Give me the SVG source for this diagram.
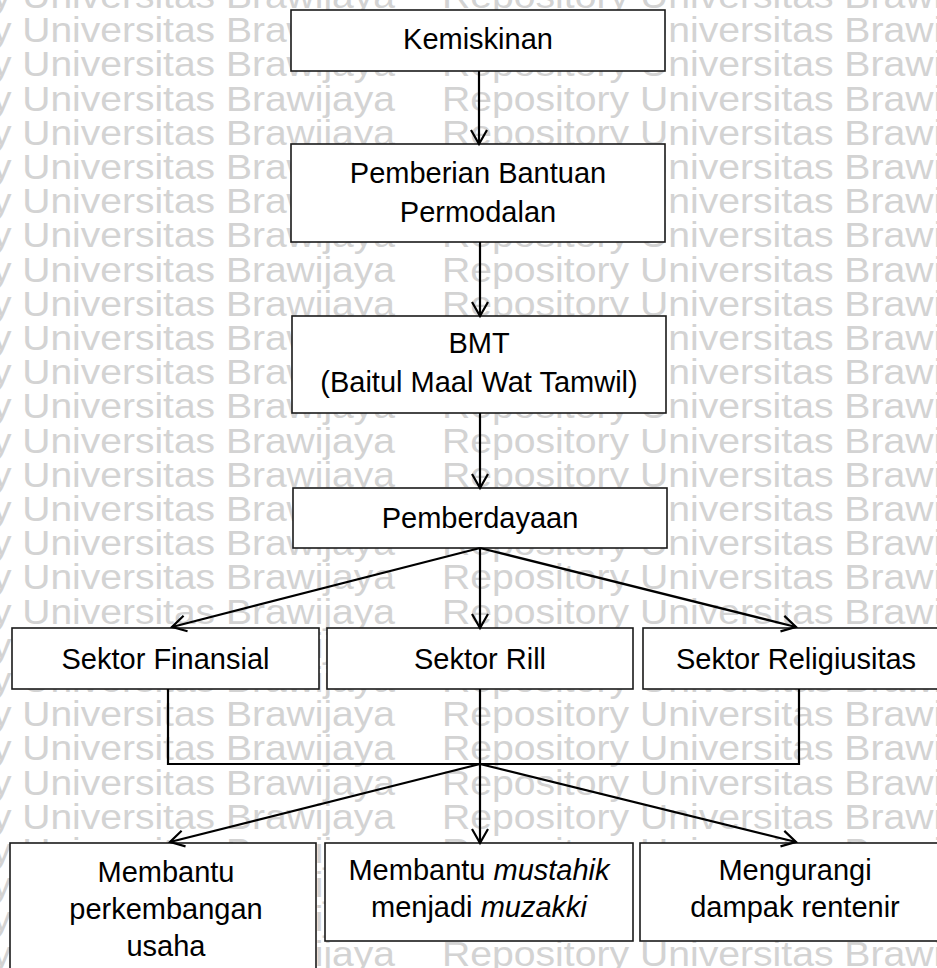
<svg xmlns="http://www.w3.org/2000/svg" width="937" height="968" viewBox="0 0 937 968">
<style>
.wm{font-family:"Liberation Sans",Arial,sans-serif;font-size:35px;fill:#d3d3d3}
.box{fill:#fff;stroke:#1a1a1a;stroke-width:1.6}
.t{font-family:"Liberation Sans",Arial,sans-serif;font-size:29px;fill:#000;text-anchor:middle}
.it{font-style:italic}
.c{fill:none;stroke:#000;stroke-width:2.2}
</style>
<defs>
<marker id="ah" viewBox="-16 -10 18 20" refX="0" refY="0" markerWidth="18" markerHeight="20" markerUnits="userSpaceOnUse" orient="auto" overflow="visible">
<path d="M-14,-8 L0,0 L-14,8" fill="none" stroke="#000" stroke-width="2.2"/>
</marker>
</defs>
<rect width="937" height="968" fill="#fff"/>
<g id="watermark">
<text class="wm" x="-175" y="8" textLength="570" lengthAdjust="spacingAndGlyphs">Repository Universitas Brawijaya</text><text class="wm" x="442" y="8" textLength="572" lengthAdjust="spacingAndGlyphs">Repository Universitas Brawijaya</text>
<text class="wm" x="-175" y="42" textLength="570" lengthAdjust="spacingAndGlyphs">Repository Universitas Brawijaya</text><text class="wm" x="442" y="42" textLength="572" lengthAdjust="spacingAndGlyphs">Repository Universitas Brawijaya</text>
<text class="wm" x="-175" y="76" textLength="570" lengthAdjust="spacingAndGlyphs">Repository Universitas Brawijaya</text><text class="wm" x="442" y="76" textLength="572" lengthAdjust="spacingAndGlyphs">Repository Universitas Brawijaya</text>
<text class="wm" x="-175" y="111" textLength="570" lengthAdjust="spacingAndGlyphs">Repository Universitas Brawijaya</text><text class="wm" x="442" y="111" textLength="572" lengthAdjust="spacingAndGlyphs">Repository Universitas Brawijaya</text>
<text class="wm" x="-175" y="145" textLength="570" lengthAdjust="spacingAndGlyphs">Repository Universitas Brawijaya</text><text class="wm" x="442" y="145" textLength="572" lengthAdjust="spacingAndGlyphs">Repository Universitas Brawijaya</text>
<text class="wm" x="-175" y="179" textLength="570" lengthAdjust="spacingAndGlyphs">Repository Universitas Brawijaya</text><text class="wm" x="442" y="179" textLength="572" lengthAdjust="spacingAndGlyphs">Repository Universitas Brawijaya</text>
<text class="wm" x="-175" y="213" textLength="570" lengthAdjust="spacingAndGlyphs">Repository Universitas Brawijaya</text><text class="wm" x="442" y="213" textLength="572" lengthAdjust="spacingAndGlyphs">Repository Universitas Brawijaya</text>
<text class="wm" x="-175" y="247" textLength="570" lengthAdjust="spacingAndGlyphs">Repository Universitas Brawijaya</text><text class="wm" x="442" y="247" textLength="572" lengthAdjust="spacingAndGlyphs">Repository Universitas Brawijaya</text>
<text class="wm" x="-175" y="282" textLength="570" lengthAdjust="spacingAndGlyphs">Repository Universitas Brawijaya</text><text class="wm" x="442" y="282" textLength="572" lengthAdjust="spacingAndGlyphs">Repository Universitas Brawijaya</text>
<text class="wm" x="-175" y="316" textLength="570" lengthAdjust="spacingAndGlyphs">Repository Universitas Brawijaya</text><text class="wm" x="442" y="316" textLength="572" lengthAdjust="spacingAndGlyphs">Repository Universitas Brawijaya</text>
<text class="wm" x="-175" y="350" textLength="570" lengthAdjust="spacingAndGlyphs">Repository Universitas Brawijaya</text><text class="wm" x="442" y="350" textLength="572" lengthAdjust="spacingAndGlyphs">Repository Universitas Brawijaya</text>
<text class="wm" x="-175" y="384" textLength="570" lengthAdjust="spacingAndGlyphs">Repository Universitas Brawijaya</text><text class="wm" x="442" y="384" textLength="572" lengthAdjust="spacingAndGlyphs">Repository Universitas Brawijaya</text>
<text class="wm" x="-175" y="418" textLength="570" lengthAdjust="spacingAndGlyphs">Repository Universitas Brawijaya</text><text class="wm" x="442" y="418" textLength="572" lengthAdjust="spacingAndGlyphs">Repository Universitas Brawijaya</text>
<text class="wm" x="-175" y="453" textLength="570" lengthAdjust="spacingAndGlyphs">Repository Universitas Brawijaya</text><text class="wm" x="442" y="453" textLength="572" lengthAdjust="spacingAndGlyphs">Repository Universitas Brawijaya</text>
<text class="wm" x="-175" y="487" textLength="570" lengthAdjust="spacingAndGlyphs">Repository Universitas Brawijaya</text><text class="wm" x="442" y="487" textLength="572" lengthAdjust="spacingAndGlyphs">Repository Universitas Brawijaya</text>
<text class="wm" x="-175" y="521" textLength="570" lengthAdjust="spacingAndGlyphs">Repository Universitas Brawijaya</text><text class="wm" x="442" y="521" textLength="572" lengthAdjust="spacingAndGlyphs">Repository Universitas Brawijaya</text>
<text class="wm" x="-175" y="555" textLength="570" lengthAdjust="spacingAndGlyphs">Repository Universitas Brawijaya</text><text class="wm" x="442" y="555" textLength="572" lengthAdjust="spacingAndGlyphs">Repository Universitas Brawijaya</text>
<text class="wm" x="-175" y="589" textLength="570" lengthAdjust="spacingAndGlyphs">Repository Universitas Brawijaya</text><text class="wm" x="442" y="589" textLength="572" lengthAdjust="spacingAndGlyphs">Repository Universitas Brawijaya</text>
<text class="wm" x="-175" y="624" textLength="570" lengthAdjust="spacingAndGlyphs">Repository Universitas Brawijaya</text><text class="wm" x="442" y="624" textLength="572" lengthAdjust="spacingAndGlyphs">Repository Universitas Brawijaya</text>
<text class="wm" x="-175" y="658" textLength="570" lengthAdjust="spacingAndGlyphs">Repository Universitas Brawijaya</text><text class="wm" x="442" y="658" textLength="572" lengthAdjust="spacingAndGlyphs">Repository Universitas Brawijaya</text>
<text class="wm" x="-175" y="692" textLength="570" lengthAdjust="spacingAndGlyphs">Repository Universitas Brawijaya</text><text class="wm" x="442" y="692" textLength="572" lengthAdjust="spacingAndGlyphs">Repository Universitas Brawijaya</text>
<text class="wm" x="-175" y="726" textLength="570" lengthAdjust="spacingAndGlyphs">Repository Universitas Brawijaya</text><text class="wm" x="442" y="726" textLength="572" lengthAdjust="spacingAndGlyphs">Repository Universitas Brawijaya</text>
<text class="wm" x="-175" y="760" textLength="570" lengthAdjust="spacingAndGlyphs">Repository Universitas Brawijaya</text><text class="wm" x="442" y="760" textLength="572" lengthAdjust="spacingAndGlyphs">Repository Universitas Brawijaya</text>
<text class="wm" x="-175" y="795" textLength="570" lengthAdjust="spacingAndGlyphs">Repository Universitas Brawijaya</text><text class="wm" x="442" y="795" textLength="572" lengthAdjust="spacingAndGlyphs">Repository Universitas Brawijaya</text>
<text class="wm" x="-175" y="829" textLength="570" lengthAdjust="spacingAndGlyphs">Repository Universitas Brawijaya</text><text class="wm" x="442" y="829" textLength="572" lengthAdjust="spacingAndGlyphs">Repository Universitas Brawijaya</text>
<text class="wm" x="-175" y="863" textLength="570" lengthAdjust="spacingAndGlyphs">Repository Universitas Brawijaya</text><text class="wm" x="442" y="863" textLength="572" lengthAdjust="spacingAndGlyphs">Repository Universitas Brawijaya</text>
<text class="wm" x="-175" y="897" textLength="570" lengthAdjust="spacingAndGlyphs">Repository Universitas Brawijaya</text><text class="wm" x="442" y="897" textLength="572" lengthAdjust="spacingAndGlyphs">Repository Universitas Brawijaya</text>
<text class="wm" x="-175" y="931" textLength="570" lengthAdjust="spacingAndGlyphs">Repository Universitas Brawijaya</text><text class="wm" x="442" y="931" textLength="572" lengthAdjust="spacingAndGlyphs">Repository Universitas Brawijaya</text>
<text class="wm" x="-175" y="966" textLength="570" lengthAdjust="spacingAndGlyphs">Repository Universitas Brawijaya</text><text class="wm" x="442" y="966" textLength="572" lengthAdjust="spacingAndGlyphs">Repository Universitas Brawijaya</text>
</g>
<g id="n-kemiskinan"><rect class="box" x="291" y="10" width="374" height="61"/><text class="t" x="478" y="49">Kemiskinan</text></g>
<g id="n-pemberian"><rect class="box" x="291" y="144" width="374" height="98"/><text class="t" x="478" y="183">Pemberian Bantuan</text><text class="t" x="478" y="222">Permodalan</text></g>
<g id="n-bmt"><rect class="box" x="292" y="316" width="374" height="97"/><text class="t" x="479" y="353">BMT</text><text class="t" x="479" y="392">(Baitul Maal Wat Tamwil)</text></g>
<g id="n-pemberdayaan"><rect class="box" x="293" y="488" width="374" height="60"/><text class="t" x="480" y="528">Pemberdayaan</text></g>
<g id="n-finansial"><rect class="box" x="12" y="628" width="307" height="61"/><text class="t" x="165.5" y="669">Sektor Finansial</text></g>
<g id="n-rill"><rect class="box" x="327" y="628" width="306" height="61"/><text class="t" x="480" y="669">Sektor Rill</text></g>
<g id="n-religiusitas"><rect class="box" x="643" y="628" width="306" height="61"/><text class="t" x="796" y="669">Sektor Religiusitas</text></g>
<g id="n-usaha"><rect class="box" x="10" y="843" width="306" height="140"/><text class="t" x="166" y="882">Membantu</text><text class="t" x="166" y="919">perkembangan</text><text class="t" x="166" y="956">usaha</text></g>
<g id="n-mustahik"><rect class="box" x="325" y="843" width="308" height="98"/><text class="t" x="479" y="880">Membantu <tspan class="it">mustahik</tspan></text><text class="t" x="479" y="917">menjadi <tspan class="it">muzakki</tspan></text></g>
<g id="n-rentenir"><rect class="box" x="640" y="843" width="310" height="98"/><text class="t" x="795" y="880">Mengurangi</text><text class="t" x="795" y="917">dampak rentenir</text></g>
<g id="connectors">
<line class="c" x1="479" y1="71" x2="479" y2="144" marker-end="url(#ah)"/>
<line class="c" x1="480" y1="242" x2="480" y2="316" marker-end="url(#ah)"/>
<line class="c" x1="480" y1="413" x2="480" y2="488" marker-end="url(#ah)"/>
<line class="c" x1="480" y1="548" x2="172" y2="627" marker-end="url(#ah)"/>
<line class="c" x1="480" y1="548" x2="480" y2="628" marker-end="url(#ah)"/>
<line class="c" x1="480" y1="548" x2="796" y2="627" marker-end="url(#ah)"/>
<path class="c" d="M168,689 V764 H799 V689"/>
<line class="c" x1="480" y1="689" x2="480" y2="843" marker-end="url(#ah)"/>
<line class="c" x1="480" y1="764" x2="170" y2="842" marker-end="url(#ah)"/>
<line class="c" x1="480" y1="764" x2="796" y2="842" marker-end="url(#ah)"/>
</g>
</svg>
